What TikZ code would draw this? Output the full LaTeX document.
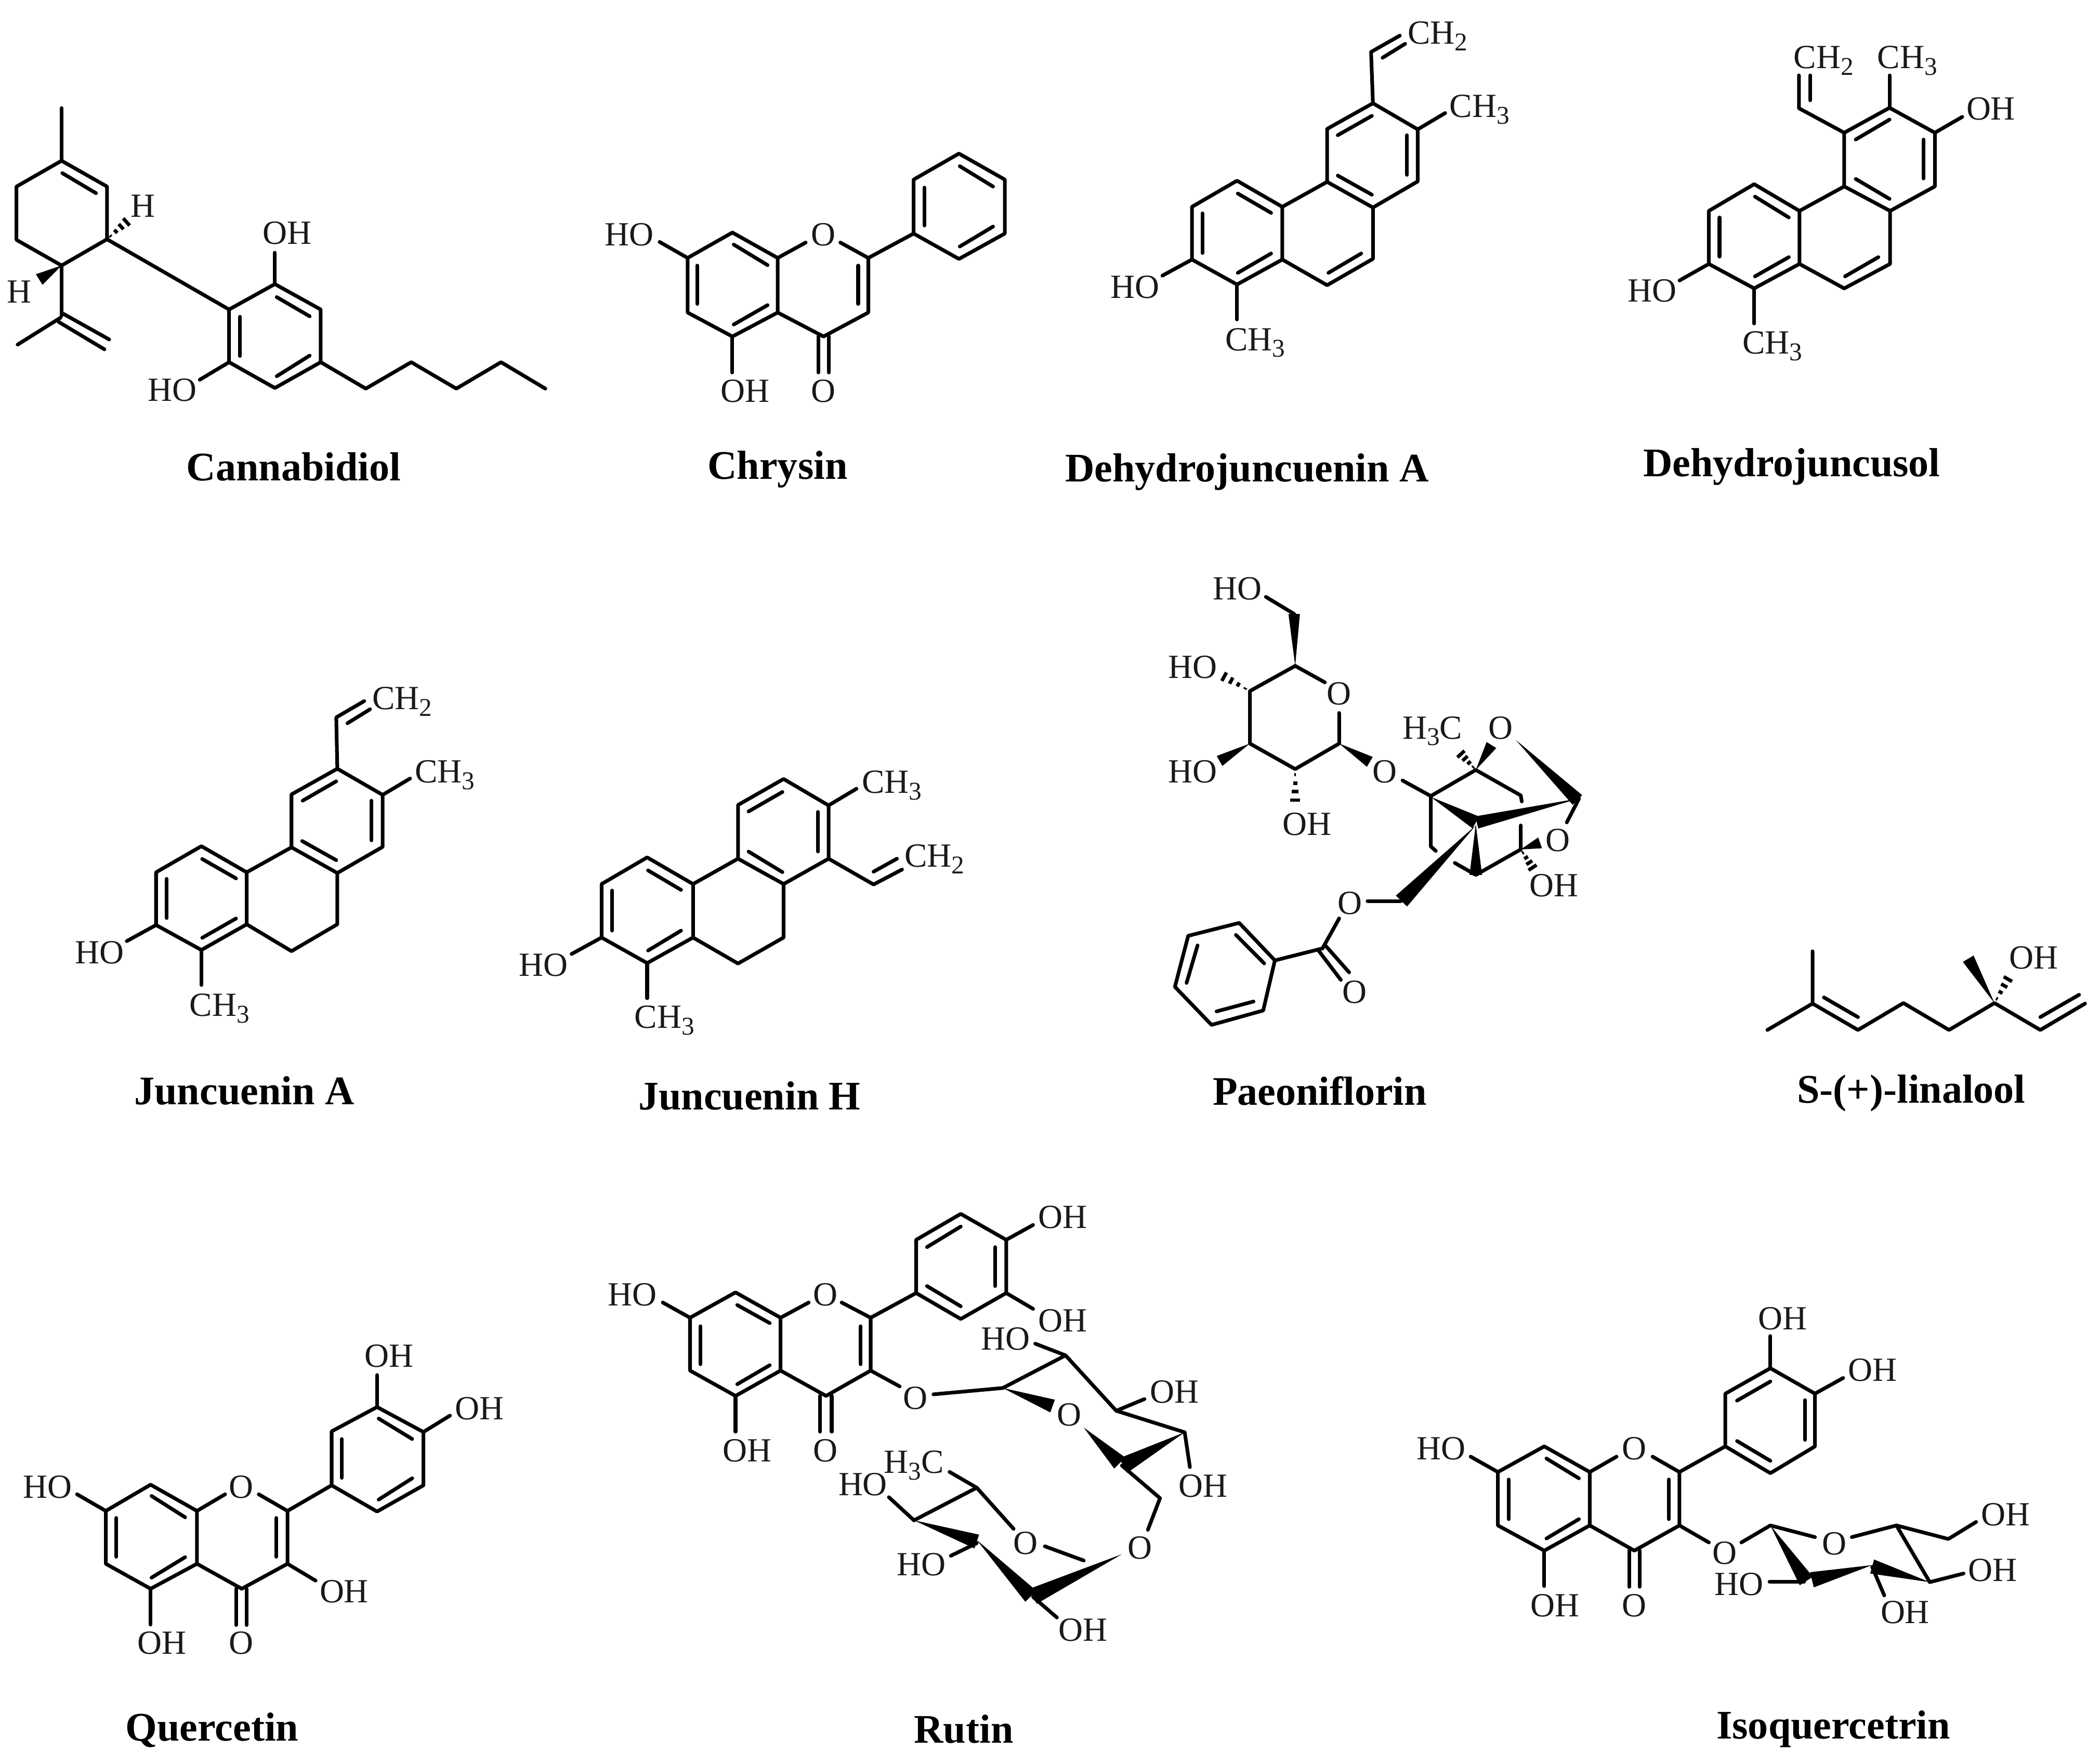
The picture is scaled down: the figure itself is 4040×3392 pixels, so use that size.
\documentclass[tikz,border=0pt]{standalone}
\usepackage{fontspec}
\setmainfont{Liberation Serif}
\usetikzlibrary{calc}
\newcounter{atomc}
\newcommand\dn[1]{\raisebox{-.42ex}{\fontsize{14pt}{14pt}\selectfont #1}}
\tikzset{
  bond/.style={line width=2pt,line cap=round,line join=round,black},
  atom/.style={inner sep=0pt,font=\fontsize{18.5pt}{20pt}\selectfont,text=black!90},
  titlelabel/.style={inner sep=0pt,font=\fontsize{22.2pt}{26pt}\selectfont\bfseries,text=black},
  zm/.style n args={4}{shift={(#1,#2)},x={#3/1560*0.01cm},y={-#4/1560*0.01cm}}
}
\newcommand\atm[2]{\stepcounter{atomc}\node[atom] (a\arabic{atomc}) at (#1) {#2};}
\newcommand\ttl[2]{\stepcounter{atomc}\node[titlelabel] (t\arabic{atomc}) at (#1) {#2};}
\newcommand\bondW[3][0.11cm]{\fill[black,line join=round] (#2) -- ($(#3)!#1!90:(#2)$) -- ($(#3)!#1!-90:(#2)$) -- cycle;}
\newcommand\bondH[2]{\foreach \t in {.15,.38,.61,.84}{\coordinate (hh) at ($(#1)!\t!(#2)$);\pgfmathsetmacro\hw{\t*1.1}\draw[line width=1.9pt] ($(hh)!\hw mm!90:(#2)$) -- ($(hh)!\hw mm!-90:(#2)$);}}
\begin{document}
\begin{tikzpicture}[x=0.01cm,y=-0.01cm]
\useasboundingbox (0,0) rectangle (4040,3392);
% Titles
\ttl{565,898}{Cannabidiol}
\ttl{1496,903}{Chrysin}
\ttl{2399,908}{Dehydrojuncuenin A}
\ttl{3447,898}{Dehydrojuncusol}
\ttl{470,2098}{Juncuenin A}
\ttl{1442,2108}{Juncuenin H}
\ttl{2539,2098}{Paeoniflorin}
\ttl{3677,2103}{S-(+)-linalool}
\ttl{408,3328}{Quercetin}
\ttl{1854,3326}{Rutin}
\ttl{3527,3326}{Isoquercetrin}
% Cannabidiol
\begin{scope}[zm={0}{180}{1100}{620}]
\draw[bond] (168,70)--(168,325);
\draw[bond] (168,325)--(292,450)--(292,705)--(168,832)--(45,708)--(45,450)--cycle;
\draw[bond] (170,385)--(262,482);
\bondH{292,705}{355,605}
\atm{390,545}{H}
\bondW[0.12cm]{168,832}{107,900}
\atm{52,960}{H}
\draw[bond] (168,832)--(168,1075);
\draw[bond] (165,1085)--(48,1215);
\draw[bond] (172,1065)--(298,1190);
\draw[bond] (160,1105)--(285,1238);
\draw[bond] (292,705)--(625,1045);
\draw[bond] (625,1045)--(750,922)--(875,1045)--(875,1300)--(750,1425)--(625,1300)--cycle;
\draw[bond] (755,985)--(845,1078);
\draw[bond] (845,1268)--(755,1368);
\draw[bond] (655,1080)--(655,1270);
\draw[bond] (750,770)--(750,922);
\atm{783,675}{OH}
\draw[bond] (625,1300)--(545,1385);
\atm{470,1435}{HO}
\draw[bond] (875,1300)--(998,1428)--(1122,1300)--(1245,1428)--(1367,1300)--(1488,1428);
\end{scope}
% Chrysin
\begin{scope}[zm={1150}{230}{800}{600}]
\draw[bond] (337,692)--(505,565)--(675,692)--(675,965)--(505,1085)--(337,965)--cycle;
\draw[bond] (510,625)--(637,728);
\draw[bond] (373,730)--(373,922);
\draw[bond] (510,1025)--(637,928);
\atm{847,575}{O}
\draw[bond] (675,692)--(780,615);
\draw[bond] (910,615)--(1015,692)--(1015,965)--(847,1085)--(675,965);
\draw[bond] (977,730)--(977,922);
\draw[bond] (827,1085)--(827,1265);
\draw[bond] (867,1085)--(867,1265);
\atm{847,1358}{O}
\draw[bond] (505,1085)--(505,1265);
\atm{552,1358}{OH}
\draw[bond] (337,692)--(232,612);
\atm{118,575}{HO}
\draw[bond] (1015,692)--(1185,570);
\draw[bond] (1185,570)--(1185,300)--(1355,170)--(1527,300)--(1527,570)--(1355,697)--cycle;
\draw[bond] (1225,340)--(1225,530);
\draw[bond] (1358,233)--(1483,335);
\draw[bond] (1483,535)--(1358,635);
\end{scope}
% Dehydrojuncuenin A
\begin{scope}[zm={2130}{20}{800}{700}]
\draw[bond] (318,1068)--(318,842)--(487,730)--(657,842)--(657,1068)--(487,1175)--cycle;
\draw[bond] (357,870)--(357,1040);
\draw[bond] (490,785)--(615,868);
\draw[bond] (490,1125)--(615,1042);
\draw[bond] (657,842)--(825,735)--(997,845)--(997,1065)--(825,1178)--(657,1068);
\draw[bond] (865,708)--(993,790);
\draw[bond] (830,1125)--(953,1042);
\draw[bond] (825,735)--(825,508)--(997,398)--(1165,510)--(1165,733)--(997,845);
\draw[bond] (865,535)--(993,452);
\draw[bond] (1125,535)--(1125,705);
\draw[bond] (1165,510)--(1268,440);
\atm{1397,425}{CH\dn{3}}
\draw[bond] (997,398)--(990,178)--(1098,108);
\draw[bond] (1033,203)--(1118,143);
\atm{1240,110}{CH\dn{2}}
\draw[bond] (318,1068)--(207,1137);
\atm{105,1187}{HO}
\draw[bond] (487,1175)--(487,1325);
\atm{555,1425}{CH\dn{3}}
\end{scope}
% Dehydrojuncusol
\begin{scope}[zm={3130}{60}{800}{680}]
\draw[bond] (307,1027)--(307,793)--(477,675)--(647,793)--(647,1027)--(477,1135)--cycle;
\draw[bond] (347,822)--(347,995);
\draw[bond] (480,730)--(607,822);
\draw[bond] (480,1082)--(607,997);
\draw[bond] (647,793)--(815,685)--(987,793)--(987,1027)--(815,1135)--(647,1027);
\draw[bond] (858,652)--(985,740);
\draw[bond] (818,1082)--(943,997);
\draw[bond] (815,685)--(815,448)--(985,338)--(1155,448)--(1155,685)--(987,793);
\draw[bond] (858,478)--(985,390);
\draw[bond] (1113,478)--(1113,650);
\draw[bond] (1155,448)--(1258,378);
\atm{1365,343}{OH}
\draw[bond] (985,338)--(985,195);
\atm{1052,130}{CH\dn{3}}
\draw[bond] (815,448)--(645,340)--(645,195);
\draw[bond] (687,195)--(687,305);
\atm{738,130}{CH\dn{2}}
\draw[bond] (307,1027)--(197,1100);
\atm{95,1145}{HO}
\draw[bond] (477,1135)--(477,1290);
\atm{545,1390}{CH\dn{3}}
\end{scope}
% Juncuenin A
\begin{scope}[zm={130}{1300}{800}{700}]
\draw[bond] (332,1068)--(332,842)--(502,730)--(672,842)--(672,1065)--(502,1175)--cycle;
\draw[bond] (372,870)--(372,1038);
\draw[bond] (505,785)--(632,868);
\draw[bond] (505,1123)--(632,1040);
\draw[bond] (672,842)--(840,735)--(1012,845)--(1012,1065)--(840,1180)--(672,1065);
\draw[bond] (880,708)--(1008,790);
\draw[bond] (840,735)--(840,508)--(1012,398)--(1182,510)--(1182,733)--(1012,845);
\draw[bond] (882,535)--(1008,452);
\draw[bond] (1140,535)--(1140,705);
\draw[bond] (1182,510)--(1285,440);
\atm{1415,425}{CH\dn{3}}
\draw[bond] (1012,398)--(1008,178)--(1113,108);
\draw[bond] (1050,203)--(1135,143);
\atm{1255,110}{CH\dn{2}}
\draw[bond] (332,1068)--(222,1137);
\atm{120,1187}{HO}
\draw[bond] (502,1175)--(502,1325);
\atm{570,1425}{CH\dn{3}}
\end{scope}
% Juncuenin H
\begin{scope}[zm={990}{1390}{900}{650}]
\draw[bond] (290,992)--(290,745)--(442,622)--(595,745)--(595,992)--(442,1110)--cycle;
\draw[bond] (325,775)--(325,960);
\draw[bond] (445,682)--(555,772);
\draw[bond] (445,1052)--(555,960);
\draw[bond] (595,745)--(745,628)--(897,745)--(897,992)--(745,1112)--(595,992);
\draw[bond] (780,595)--(893,690);
\draw[bond] (745,628)--(745,380)--(897,260)--(1047,382)--(1047,628)--(897,745);
\draw[bond] (780,410)--(893,320);
\draw[bond] (1012,412)--(1012,595);
\draw[bond] (1047,382)--(1140,305);
\atm{1258,290}{CH\dn{3}}
\draw[bond] (1047,628)--(1197,747)--(1292,678);
\draw[bond] (1197,688)--(1275,628);
\atm{1400,630}{CH\dn{2}}
\draw[bond] (290,992)--(190,1068);
\atm{97,1118}{HO}
\draw[bond] (442,1110)--(442,1272);
\atm{500,1375}{CH\dn{3}}
\end{scope}
% Paeoniflorin
\begin{scope}[zm={2150}{1080}{1000}{900}]
\atm{360,90}{HO}
\draw[bond] (445,118)--(530,175);
\bondW{533,348}{530,175}
\draw[bond] (533,348)--(622,403);
\atm{665,440}{O}
\draw[bond] (665,505)--(665,607)--(533,692)--(397,607)--(397,432)--(533,348);
\atm{225,352}{HO}
\bondH{397,432}{305,375}
\atm{225,700}{HO}
\bondW{397,607}{306,665}
\atm{568,875}{OH}
\bondH{533,692}{533,815}
\atm{802,700}{O}
\bondW{665,607}{757,668}
\draw[bond] (855,730)--(940,782)--(1075,695);
\bondW{1075,695}{1122,612}
\atm{1150,555}{O}
\atm{945,565}{H\dn{3}C}
\bondH{1075,695}{1022,632}
\draw[bond] (1075,695)--(1210,780)--(1213,800);
\bondW[0.13cm]{1195,595}{1380,795}
\bondW[0.12cm]{1385,790}{1078,870}
\bondW[0.13cm]{940,785}{1075,870}
\bondW[0.12cm]{1075,875}{1075,1045}
\bondW[0.15cm]{1075,880}{852,1132}
\draw[bond] (940,785)--(940,950)--(955,965);
\draw[bond] (1012,1005)--(1075,1045)--(1210,960)--(1210,880);
\bondW{1210,960}{1268,938}
\bondH{1210,960}{1252,1032}
\atm{1310,1080}{OH}
\atm{1322,930}{O}
\draw[bond] (1348,870)--(1385,790);
\atm{697,1140}{O}
\draw[bond] (750,1132)--(850,1132);
\draw[bond] (665,1190)--(615,1290);
\draw[bond] (625,1282)--(695,1370);
\draw[bond] (603,1297)--(670,1395);
\atm{712,1435}{O}
\draw[bond] (615,1290)--(472,1330);
\draw[bond] (472,1330)--(365,1205)--(212,1248)--(172,1418)--(282,1545)--(437,1497)--cycle;
\draw[bond] (355,1245)--(440,1340);
\draw[bond] (240,1280)--(207,1405);
\draw[bond] (297,1500)--(408,1467);
\end{scope}
% Linalool
\begin{scope}[zm={3400}{1800}{640}{528}]
\draw[bond] (0,535)--(212,385)--(212,88);
\draw[bond] (212,385)--(425,535)--(638,382)--(852,535)--(1065,382)--(1280,535)--(1490,385);
\draw[bond] (265,350)--(425,462);
\draw[bond] (1280,462)--(1462,335);
\bondW[0.12cm]{1065,382}{942,130}
\bondH{1065,382}{1140,220}
\atm{1248,125}{OH}
\end{scope}
% Quercetin
\begin{scope}[zm={30}{2580}{960}{640}]
\draw[bond] (282,795)--(422,672)--(567,795)--(567,1043)--(422,1160)--(282,1043)--cycle;
\draw[bond] (425,725)--(530,825);
\draw[bond] (315,828)--(315,1010);
\draw[bond] (425,1108)--(530,1012);
\atm{705,682}{O}
\draw[bond] (567,795)--(655,717);
\draw[bond] (760,717)--(850,795)--(850,1043)--(707,1160)--(567,1043);
\draw[bond] (815,828)--(815,1010);
\draw[bond] (690,1160)--(690,1330);
\draw[bond] (722,1160)--(722,1330);
\atm{705,1415}{O}
\draw[bond] (422,1160)--(422,1328);
\atm{458,1415}{OH}
\draw[bond] (850,1043)--(938,1122);
\atm{1027,1172}{OH}
\draw[bond] (282,795)--(192,717);
\atm{100,682}{HO}
\draw[bond] (850,795)--(988,675);
\draw[bond] (988,675)--(988,422)--(1130,308)--(1275,425)--(1275,675)--(1130,798)--cycle;
\draw[bond] (1020,458)--(1020,640);
\draw[bond] (1135,362)--(1240,458);
\draw[bond] (1135,742)--(1240,642);
\draw[bond] (1130,308)--(1130,158);
\atm{1168,68}{OH}
\draw[bond] (1275,425)--(1358,348);
\atm{1450,315}{OH}
\end{scope}
% Rutin
\begin{scope}[zm={1150}{2280}{1300}{950}]
\draw[bond] (213,418)--(318,338)--(422,418)--(422,585)--(318,665)--(213,585)--cycle;
\draw[bond] (322,378)--(397,435);
\draw[bond] (237,445)--(237,565);
\draw[bond] (322,628)--(397,568);
\atm{525,345}{O}
\draw[bond] (422,418)--(487,370);
\draw[bond] (563,370)--(630,418)--(630,585)--(527,665)--(422,585);
\draw[bond] (607,445)--(607,565);
\draw[bond] (513,665)--(513,778);
\draw[bond] (540,665)--(540,778);
\atm{525,838}{O}
\draw[bond] (318,665)--(318,778);
\atm{345,838}{OH}
\draw[bond] (213,418)--(150,370);
\atm{80,345}{HO}
\draw[bond] (630,418)--(735,340);
\draw[bond] (735,340)--(735,172)--(838,90)--(943,172)--(943,340)--(838,422)--cycle;
\draw[bond] (760,195)--(838,130);
\draw[bond] (917,195)--(917,318);
\draw[bond] (760,318)--(838,382);
\draw[bond] (943,172)--(1005,125);
\atm{1073,100}{OH}
\draw[bond] (943,340)--(1005,390);
\atm{1073,427}{OH}
\draw[bond] (630,585)--(697,635);
\atm{733,672}{O}
\draw[bond] (775,660)--(935,640);
\bondW[0.13cm]{935,640}{1050,697}
\atm{1088,725}{O}
\draw[bond] (935,640)--(1080,537)--(1197,712);
\draw[bond] (1010,500)--(1080,537);
\atm{942,485}{HO}
\draw[bond] (1197,712)--(1262,675);
\atm{1332,652}{OH}
\draw[bond] (1197,712)--(1355,780)--(1367,890);
\atm{1398,950}{OH}
\bondW[0.16cm]{1355,780}{1213,885}
\bondW[0.15cm]{1122,765}{1205,877}
\draw[bond] (1210,885)--(1298,988)--(1270,1088);
\atm{1252,1145}{O}
\bondW[0.16cm]{1210,1165}{1005,1298}
\bondW[0.15cm]{875,1120}{1000,1298}
\draw[bond] (1005,1300)--(1060,1365);
\atm{1120,1405}{OH}
\draw[bond] (875,1130)--(815,1170);
\atm{747,1198}{HO}
\bondW[0.14cm]{730,1058}{875,1125}
\draw[bond] (730,1058)--(875,955)--(960,1085);
\draw[bond] (875,955)--(812,905);
\atm{730,885}{H\dn{3}C}
\draw[bond] (730,1058)--(672,985);
\atm{612,945}{HO}
\atm{988,1130}{O}
\draw[bond] (1032,1140)--(1122,1185);
\end{scope}
% Isoquercetrin
\begin{scope}[zm={2700}{2480}{1300}{700}]
\draw[bond] (218,783)--(325,673)--(430,783)--(430,1012)--(325,1120)--(218,1012)--cycle;
\draw[bond] (330,725)--(405,810);
\draw[bond] (243,815)--(243,985);
\draw[bond] (330,1068)--(405,985);
\atm{533,683}{O}
\draw[bond] (430,783)--(492,717);
\draw[bond] (575,717)--(637,783)--(637,1012)--(533,1120)--(430,1012);
\draw[bond] (613,815)--(613,985);
\draw[bond] (521,1120)--(521,1275);
\draw[bond] (545,1120)--(545,1275);
\atm{533,1355}{O}
\draw[bond] (325,1120)--(325,1272);
\atm{350,1355}{OH}
\draw[bond] (218,783)--(155,717);
\atm{87,683}{HO}
\draw[bond] (637,783)--(743,673);
\draw[bond] (743,673)--(743,447)--(847,338)--(950,447)--(950,673)--(847,788)--cycle;
\draw[bond] (770,477)--(847,395);
\draw[bond] (927,475)--(927,645);
\draw[bond] (770,650)--(847,735);
\draw[bond] (847,338)--(847,200);
\atm{875,125}{OH}
\draw[bond] (950,447)--(1015,380);
\atm{1083,347}{OH}
\draw[bond] (637,1012)--(705,1085);
\atm{742,1130}{O}
\draw[bond] (780,1085)--(847,1012)--(950,1062);
\atm{995,1090}{O}
\draw[bond] (1035,1062)--(1138,1012)--(1258,1070)--(1322,997);
\atm{1390,965}{OH}
\draw[bond] (1138,1012)--(1215,1255)--(1293,1218);
\atm{1360,1205}{OH}
\bondW[0.14cm]{1215,1255}{1082,1188}
\draw[bond] (1082,1190)--(1110,1312);
\atm{1158,1385}{OH}
\bondW[0.15cm]{1082,1182}{943,1245}
\bondW[0.15cm]{847,1012}{930,1250}
\draw[bond] (925,1253)--(845,1253);
\atm{775,1265}{HO}
\end{scope}
\end{tikzpicture}
\end{document}
